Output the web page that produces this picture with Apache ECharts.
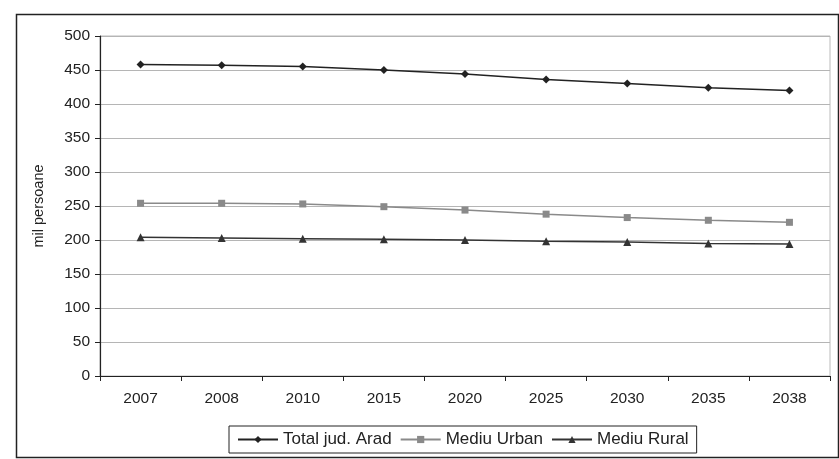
<!DOCTYPE html>
<html><head><meta charset="utf-8">
<script src="https://cdn.jsdelivr.net/npm/echarts@6/dist/echarts.min.js"></script>
<style>html,body{margin:0;padding:0;background:#fff}#c{width:839px;height:459px}</style>
</head><body><div id="c"></div>
<script>
const categories = ['2007','2008','2010','2015','2020','2025','2030','2035','2038'];
const totalArad = [458, 457, 455, 450, 444, 436, 430, 424, 420];
const urban = [254, 254, 253, 249, 244, 238, 233, 229, 226];
const rural = [204, 203, 202, 201, 200, 198, 197, 195, 194];
const yTicks = [0, 50, 100, 150, 200, 250, 300, 350, 400, 450, 500];

const chart = echarts.init(document.getElementById('c'));
const font = 'Liberation Sans, Arial, sans-serif';
chart.setOption({
  backgroundColor: '#fff',
  animation: false,
  textStyle: { fontFamily: font },
  graphic: [{
    type: 'rect', left: 14, top: 12,
    shape: { width: 822, height: 443 },
    style: { fill: 'none', stroke: '#222', lineWidth: 1.5 }
  }],
  grid: { left: 100, right: 9, top: 36, bottom: 83, show: true, borderColor: '#bbb', borderWidth: 1 },
  xAxis: {
    type: 'category', data: categories, boundaryGap: true,
    axisLine: { lineStyle: { color: '#222', width: 1.2 } },
    axisTick: { show: true, alignWithLabel: false, length: 5, lineStyle: { color: '#222' } },
    axisLabel: { color: '#222', fontSize: 15.5, margin: 15, fontFamily: font }
  },
  yAxis: {
    type: 'value', min: yTicks[0], max: yTicks[yTicks.length - 1], interval: 50,
    name: 'mil persoane', nameLocation: 'middle', nameGap: 54, nameRotate: 90,
    nameTextStyle: { color: '#222', fontSize: 14.5, fontFamily: font },
    axisLine: { show: true, lineStyle: { color: '#222', width: 1.2 } },
    axisTick: { show: true, length: 5, lineStyle: { color: '#222' } },
    axisLabel: { color: '#222', fontSize: 15.5, margin: 10, fontFamily: font },
    splitLine: { show: true, lineStyle: { color: '#b5b5b5', width: 1 } }
  },
  legend: {
    bottom: 6, left: 229,
    borderColor: '#222', borderWidth: 1, padding: [5, 8],
    itemGap: 8, itemWidth: 40, itemHeight: 9,
    textStyle: { color: '#222', fontSize: 17, fontFamily: font },
    data: ['Total jud. Arad', 'Mediu Urban', 'Mediu Rural']
  },
  series: [
    { name: 'Total jud. Arad', type: 'line', data: totalArad, symbol: 'diamond', symbolSize: 8,
      lineStyle: { color: '#222', width: 1.5 }, itemStyle: { color: '#222' } },
    { name: 'Mediu Urban', type: 'line', data: urban, symbol: 'rect', symbolSize: 7,
      lineStyle: { color: '#8a8a8a', width: 1.5 }, itemStyle: { color: '#8a8a8a' } },
    { name: 'Mediu Rural', type: 'line', data: rural, symbol: 'triangle', symbolSize: 8,
      lineStyle: { color: '#333', width: 1.5 }, itemStyle: { color: '#333' } }
  ]
});
</script></body></html>
